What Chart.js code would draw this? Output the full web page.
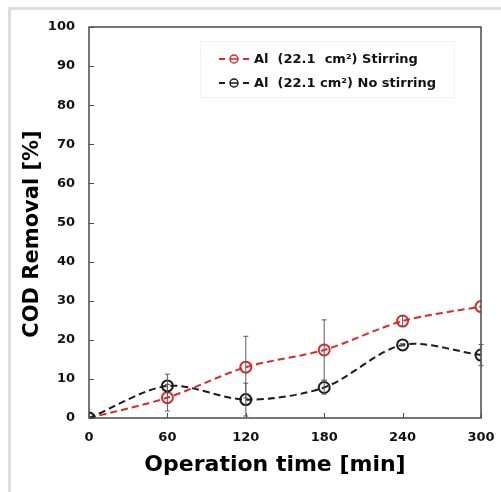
<!DOCTYPE html>
<html lang="en">
<head>
    <meta charset="UTF-8">
    <title>COD Removal</title>
    <script src="https://cdn.jsdelivr.net/npm/chart.js"></script>
    <style>
        html, body { margin: 0; padding: 0; background: #fff; }
        #wrap { position: relative; width: 501px; height: 492px; overflow: hidden; }
        .edgeTop { position: absolute; left: 8px; top: 7px; width: 493px; height: 3px; background: #dedede; }
        .edgeLeft { position: absolute; left: 8px; top: 7px; width: 3px; height: 485px; background: #dedede; }
        #codChart { position: absolute; left: 0; top: 0; }
    </style>
</head>
<body>
    <div id="wrap">
        <div class="edgeTop"></div>
        <div class="edgeLeft"></div>
        <canvas id="codChart" width="501" height="492"></canvas>
    </div>

    <script>
        // valeurs
        var times = [0, 60, 120, 180, 240, 300];
        var stirring = [0, 5.2, 13.0, 17.4, 24.8, 28.5];
        var stirringErr = [0, 3.4, 7.9, 7.7, 1.4, 0];
        var noStirring = [0, 8.2, 4.7, 7.8, 18.7, 16.1];
        var noStirringErr = [0, 3.0, 4.2, 1.7, 0.3, 2.7];
        var seriesLabels = ['Al  (22.1  cm\u00B2) Stirring', 'Al  (22.1 cm\u00B2) No stirring'];
        var xTicks = [0, 60, 120, 180, 240, 300];
        var yTicks = [0, 10, 20, 30, 40, 50, 60, 70, 80, 90, 100];
        var xTitle = 'Operation time [min]';
        var yTitle = 'COD Removal [%]';

        var RED = '#d92a2a';
        var BLACK = '#1c1c1c';
        var FONT = '"DejaVu Sans", sans-serif';

        function toPoints(vals) {
            return times.map(function (t, i) { return { x: t, y: vals[i] }; });
        }

        // barres d'erreur, titres, légende et graduations intérieures
        var extras = {
            id: 'extras',
            afterDatasetsDraw: function (chart) {
                var ctx = chart.ctx;
                var xs = chart.scales.x, ys = chart.scales.y;
                var area = chart.chartArea;

                // cadre
                ctx.save();
                ctx.strokeStyle = '#4a4a4a';
                ctx.lineWidth = 1.5;
                ctx.strokeRect(area.left, area.top, area.right - area.left, area.bottom - area.top);

                // graduations vers l'intérieur
                ctx.lineWidth = 1;
                yTicks.forEach(function (v) {
                    var py = Math.round(ys.getPixelForValue(v)) + 0.5;
                    ctx.beginPath();
                    ctx.moveTo(area.left, py);
                    ctx.lineTo(area.left + 5, py);
                    ctx.stroke();
                });
                xTicks.forEach(function (v) {
                    var px = Math.round(xs.getPixelForValue(v)) + 0.5;
                    ctx.beginPath();
                    ctx.moveTo(px, area.bottom);
                    ctx.lineTo(px, area.bottom - 5);
                    ctx.stroke();
                });

                // barres d'erreur
                ctx.strokeStyle = '#5a5a5a';
                ctx.lineWidth = 1;
                [[stirring, stirringErr], [noStirring, noStirringErr]].forEach(function (s) {
                    s[0].forEach(function (v, i) {
                        var e = s[1][i];
                        if (!e) return;
                        var px = xs.getPixelForValue(times[i]);
                        var top = ys.getPixelForValue(v + e);
                        var bot = ys.getPixelForValue(Math.max(v - e, 0));
                        ctx.beginPath();
                        ctx.moveTo(px, top); ctx.lineTo(px, bot);
                        ctx.moveTo(px - 2.5, top); ctx.lineTo(px + 2.5, top);
                        ctx.moveTo(px - 2.5, bot); ctx.lineTo(px + 2.5, bot);
                        ctx.stroke();
                    });
                });

                // légende
                ctx.strokeStyle = '#f2f2f2';
                ctx.strokeRect(200.5, 41.5, 254, 56);
                var colors = [RED, BLACK];
                var rows = [59, 83];
                var lx = 219;
                ctx.font = 'bold 13px ' + FONT;
                ctx.textBaseline = 'middle';
                ctx.textAlign = 'left';
                rows.forEach(function (y, k) {
                    ctx.strokeStyle = colors[k];
                    ctx.lineWidth = 2;
                    ctx.beginPath();
                    ctx.moveTo(lx, y); ctx.lineTo(lx + 6, y);
                    ctx.moveTo(lx + 24, y); ctx.lineTo(lx + 30, y);
                    ctx.stroke();
                    ctx.lineWidth = 1.5;
                    ctx.beginPath();
                    ctx.arc(lx + 15, y, 4, 0, Math.PI * 2);
                    ctx.moveTo(lx + 11, y); ctx.lineTo(lx + 19, y);
                    ctx.stroke();
                    ctx.fillStyle = '#111';
                    ctx.fillText(seriesLabels[k], lx + 35, y + 1);
                });

                // titres des axes
                ctx.fillStyle = '#000';
                ctx.textAlign = 'center';
                ctx.font = 'bold 22px ' + FONT;
                ctx.fillText(xTitle, 275, 465);
                ctx.translate(33, 234);
                ctx.rotate(-Math.PI / 2);
                ctx.font = 'bold 21px ' + FONT;
                ctx.fillText(yTitle, 0, 0);
                ctx.restore();
            }
        };

        var config = {
            type: 'line',
            data: {
                datasets: [{
                    label: seriesLabels[1],
                    data: toPoints(noStirring),
                    borderColor: BLACK,
                    borderWidth: 2,
                    borderDash: [7, 4],
                    tension: 0.3,
                    fill: false,
                    pointRadius: 5.5,
                    pointBorderWidth: 2,
                    pointBorderColor: BLACK,
                    pointBackgroundColor: 'rgba(0,0,0,0)'
                }, {
                    label: seriesLabels[0],
                    data: toPoints(stirring),
                    borderColor: RED,
                    borderWidth: 2,
                    borderDash: [7, 4],
                    tension: 0.3,
                    fill: false,
                    pointRadius: 5.5,
                    pointBorderWidth: 2,
                    pointBorderColor: RED,
                    pointBackgroundColor: 'rgba(0,0,0,0)'
                }]
            },
            options: {
                responsive: false,
                animation: false,
                layout: { padding: { left: 0, top: 27, right: 20, bottom: 0 } },
                plugins: {
                    legend: { display: false },
                    tooltip: { enabled: false }
                },
                scales: {
                    x: {
                        type: 'linear',
                        min: 0,
                        max: 300,
                        afterBuildTicks: function (scale) {
                            scale.ticks = xTicks.map(function (v) { return { value: v }; });
                        },
                        afterFit: function (scale) {
                            scale.height = 74;
                            scale.paddingLeft = 0;
                            scale.paddingRight = 0;
                        },
                        grid: { display: false, drawTicks: false },
                        border: { display: false },
                        ticks: {
                            padding: 12,
                            color: '#111',
                            font: { family: FONT, size: 13, weight: 'bold' }
                        }
                    },
                    y: {
                        min: 0,
                        max: 100,
                        afterBuildTicks: function (scale) {
                            scale.ticks = yTicks.map(function (v) { return { value: v }; });
                        },
                        afterFit: function (scale) { scale.width = 89; },
                        grid: { display: false, drawTicks: false },
                        border: { display: false },
                        ticks: {
                            padding: 14,
                            color: '#111',
                            font: { family: FONT, size: 13, weight: 'bold' }
                        }
                    }
                }
            },
            plugins: [extras]
        };

        var ctx = document.getElementById('codChart').getContext('2d');
        var codChart = new Chart(ctx, config);
    </script>
</body>
</html>
